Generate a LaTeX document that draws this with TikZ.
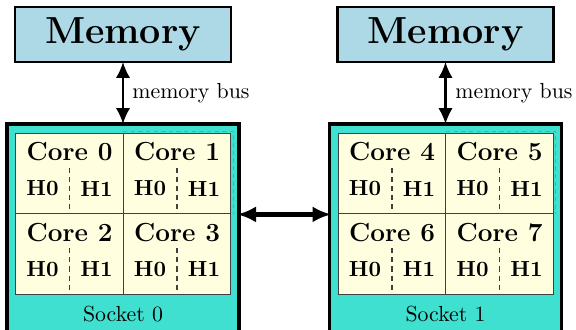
\documentclass[tikz,border=0pt]{standalone}
\usetikzlibrary{arrows.meta}
\definecolor{memblue}{HTML}{ADD8E6}
\definecolor{socketteal}{HTML}{40E0D0}
\definecolor{cellyellow}{HTML}{FFFFE0}
\def\upx{0.4587pt}
\begin{document}
\begin{tikzpicture}[x=0.4587pt,y=-0.4587pt,
  membox/.style={draw=black,line width=1.2pt,fill=memblue,inner sep=0pt,outer sep=0pt,
    minimum width=216*\upx,minimum height=55*\upx,font=\LARGE\bfseries},
  sockbox/.style={draw=black,line width=1.4pt,fill=socketteal,inner sep=0pt,outer sep=0pt,
    minimum width=232*\upx,minimum height=211*\upx},
  cellbox/.style={draw=black!75,line width=0.6pt,fill=cellyellow,inner sep=0pt,
    minimum width=107.5*\upx,minimum height=80.5*\upx},
  corelabel/.style={inner sep=0pt,font=\large\bfseries},
  hlabel/.style={inner sep=0pt,font=\bfseries},
  socklabel/.style={inner sep=0pt},
  buslabel/.style={inner sep=0pt,anchor=base west},
  halfline/.style={draw=black!75,line width=0.5pt,dash pattern=on 2.4pt off 1.8pt},
  faintdash/.style={draw=socketteal!55!black,line width=0.45pt,dash pattern=on 2pt off 1.5pt,opacity=0.35},
  busarrow/.style={{Latex[length=7.3pt,width=6.6pt]}-{Latex[length=7.3pt,width=6.6pt]},line width=1pt},
  linkarrow/.style={{Latex[length=8.6pt,width=7.4pt]}-{Latex[length=8.6pt,width=7.4pt]},line width=2pt,
    shorten <=-0.8pt,shorten >=-0.8pt}
]
\useasboundingbox (0,0) rectangle (576,329);

% memories
\node[membox] (mem0) at (123,34.5) {Memory};
\node[membox] (mem1) at (445.5,34.5) {Memory};

% sockets
\node[sockbox] (sock0) at (123,229.5) {};
\node[sockbox] (sock1) at (445.5,229.5) {};

% faint dashed outline near core 1 / core 5
\draw[faintdash] (123,131) -- (233,131) -- (233,214);
\draw[faintdash] (446,131) -- (555.5,131) -- (555.5,214);

% cells
\foreach \n/\cx/\cy in {0/69.5/173.5, 1/177/173.5, 2/69.5/254, 3/177/254,
                        4/392/173.5, 5/499.5/173.5, 6/392/254, 7/499.5/254} {
  \node[cellbox] (c\n) at (\cx,\cy) {};
  \node[corelabel] (cl\n) at ([yshift=-19*\upx]c\n.north) {Core \n};
  \node[hlabel] (h\n a) at ([xshift=-27*\upx,yshift=-56*\upx]c\n.north) {H0};
  \node[hlabel] (h\n b) at ([xshift=27*\upx,yshift=-56*\upx]c\n.north) {H1};
  \coordinate (d\n top) at ([yshift=-35*\upx]c\n.north);
  \draw[halfline] (d\n top) -- (c\n.south);
}

% socket labels
\node[socklabel] (sl0) at (123,314) {Socket 0};
\node[socklabel] (sl1) at (445.5,314) {Socket 1};

% buses
\draw[busarrow] (mem0.south) -- (sock0.north);
\draw[busarrow] (mem1.south) -- (sock1.north);
\node[buslabel] (bl0) at (132,98) {memory bus};
\node[buslabel] (bl1) at (455,98) {memory bus};

% inter-socket link
\draw[linkarrow] (sock0.east |- c1.south) -- (sock1.west |- c4.south);
\end{tikzpicture}
\end{document}
